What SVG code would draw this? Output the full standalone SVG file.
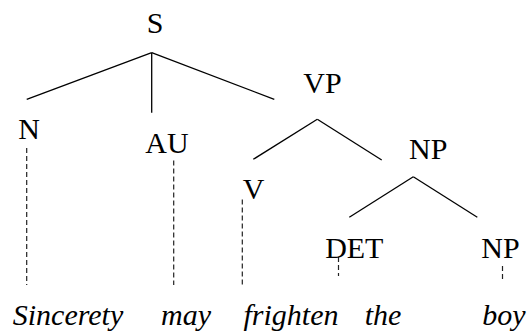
<svg xmlns="http://www.w3.org/2000/svg" width="532" height="334" viewBox="0 0 532 334">
  <style>
    .lbl { font-family: "Liberation Serif", "Noto Serif", "DejaVu Serif", "Times New Roman", serif; font-size: 30px; fill: #000; text-anchor: middle; }
    .word { font-family: "Liberation Serif", "Noto Serif", "DejaVu Serif", "Times New Roman", serif; font-size: 30px; font-style: italic; fill: #000; text-anchor: middle; }
    .branch { stroke: #000; stroke-width: 1.3; fill: none; }
    .lex { stroke: #222; stroke-width: 1.2; stroke-dasharray: 5 3; fill: none; }
  </style>
  <rect width="532" height="334" fill="#fff"/>

  <!-- tree branches (solid) and lexical links down to the words (dashed) -->
  <g id="connectors">
    <line class="branch" x1="151.7" y1="52.7" x2="26.7" y2="99.3"/>
    <line class="branch" x1="151.7" y1="52.7" x2="151.7" y2="112.7"/>
    <line class="branch" x1="151.7" y1="52.7" x2="274.3" y2="99.3"/>
    <line class="branch" x1="317.3" y1="119.3" x2="253.3" y2="159.3"/>
    <line class="branch" x1="317.3" y1="119.3" x2="381.7" y2="160"/>
    <line class="branch" x1="413.3" y1="176.7" x2="349.3" y2="217.3"/>
    <line class="branch" x1="413.3" y1="176.7" x2="477.3" y2="217.3"/>
    <line class="lex" x1="26.7" y1="148" x2="26.7" y2="285"/>
    <line class="lex" x1="173.7" y1="160.5" x2="173.7" y2="285"/>
    <line class="lex" x1="242.3" y1="199.5" x2="242.3" y2="285"/>
    <line class="lex" x1="338.5" y1="257" x2="338.5" y2="276"/>
    <line class="lex" x1="502.5" y1="266" x2="502.5" y2="281"/>
  </g>

  <g id="node-S"><text class="lbl" x="155" y="33">S</text></g>
  <g id="node-N"><text class="lbl" x="29" y="138.5">N</text></g>
  <g id="node-AU"><text class="lbl" x="167" y="152.5">AU</text></g>
  <g id="node-VP"><text class="lbl" x="322.5" y="92.5">VP</text></g>
  <g id="node-V"><text class="lbl" x="253.5" y="199">V</text></g>
  <g id="node-NP1"><text class="lbl" x="428.3" y="159">NP</text></g>
  <g id="node-DET"><text class="lbl" x="354.3" y="258">DET</text></g>
  <g id="node-NP2"><text class="lbl" x="500.5" y="258">NP</text></g>

  <g id="words">
    <text class="word" x="68" y="325">Sincerety</text>
    <text class="word" x="186" y="325">may</text>
    <text class="word" x="291" y="325">frighten</text>
    <text class="word" x="383" y="325">the</text>
    <text class="word" x="504" y="325">boy</text>
  </g>
</svg>
